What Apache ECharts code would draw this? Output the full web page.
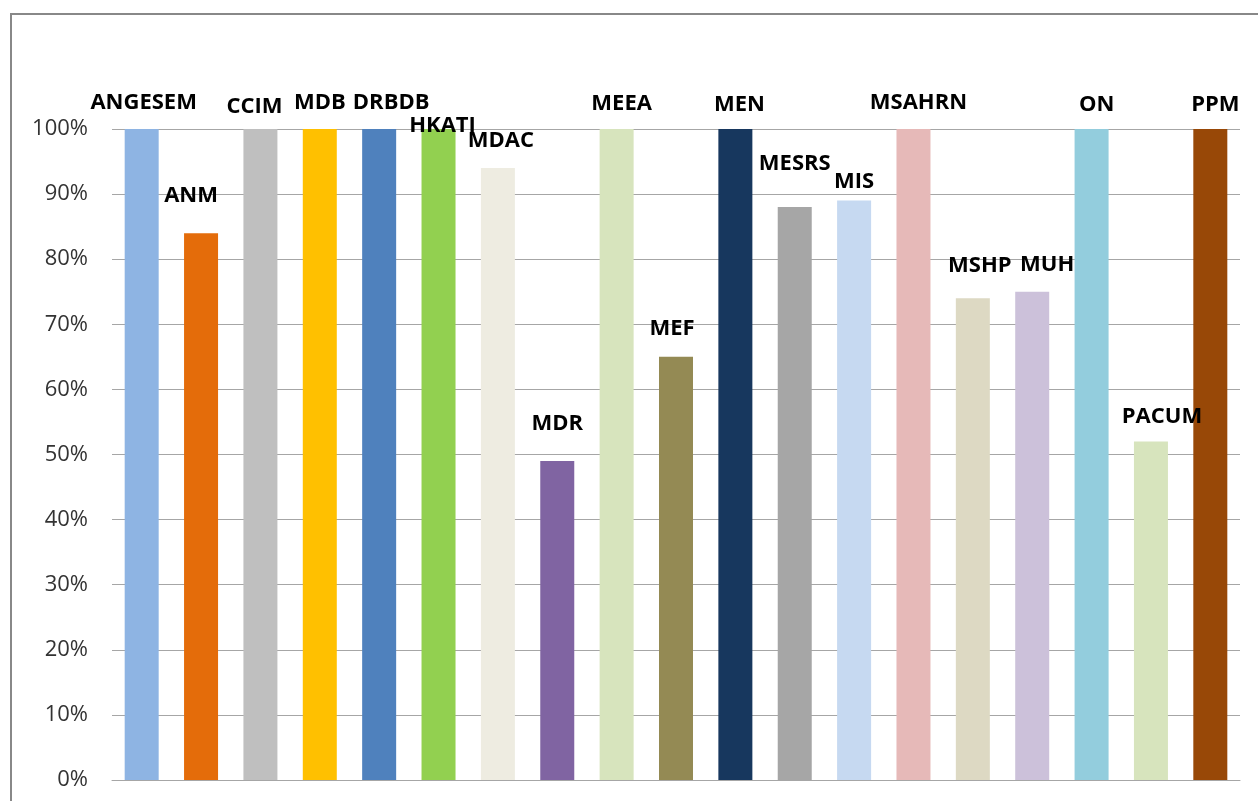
<!DOCTYPE html>
<html>
<head>
<meta charset="utf-8">
<script src="https://cdn.jsdelivr.net/npm/echarts@6/dist/echarts.min.js"></script>
<style>
html, body { margin: 0; padding: 0; background: #fff; }
#main { width: 1258px; height: 801px; }
</style>
</head>
<body>
<div id="main"></div>
<script>
// données (en %)
var categories = ['ANGESEM', 'ANM', 'CCIM', 'MDB', 'DRBDB', 'HKATI', 'MDAC', 'MDR', 'MEEA', 'MEF',
  'MEN', 'MESRS', 'MIS', 'MSAHRN', 'MSHP', 'MUH', 'ON', 'PACUM', 'PPM'];
var values = [100, 84, 100, 100, 100, 100, 94, 49, 100, 65, 100, 88, 89, 100, 74, 75, 100, 52, 100];
var yTicks = [0, 10, 20, 30, 40, 50, 60, 70, 80, 90, 100];

// couleurs des barres et décalage des étiquettes (déplacées à la main dans l'original)
var barColors = ['#8EB4E3', '#E46C0A', '#BFBFBF', '#FFC000', '#4F81BD', '#92D050', '#EEECE1', '#8064A2', '#D7E4BD', '#948A54',
  '#17375E', '#A6A6A6', '#C6D9F1', '#E6B9B8', '#DDD9C3', '#CCC1DA', '#93CDDD', '#D7E4BD', '#984807'];
var labelNudge = [[2, -15], [-10, -26], [-6, -11], [0, -15], [12, -15], [4, 8], [3, -16], [0, -26], [5, -14], [-4, -17],
  [4, -13], [0, -32], [0, -8], [5, -15], [7, -22], [15, -16], [5, -13], [11, -14], [5, -13]];

var chart = echarts.init(document.getElementById('main'), null, { renderer: 'canvas' });
var font = '"Open Sans", "Liberation Sans", sans-serif';

var option = {
  animation: false,
  backgroundColor: '#fff',
  graphic: [{
    type: 'rect',
    shape: { x: 11, y: 14, width: 1300, height: 850 },
    style: { fill: null, stroke: '#888', lineWidth: 2 },
    silent: true
  }],
  grid: { left: 112, right: 18, top: 129, bottom: 21 },
  xAxis: {
    type: 'category',
    data: categories,
    axisLine: { lineStyle: { color: '#a6a6a6', width: 1 } },
    axisTick: { show: false },
    axisLabel: { show: false }
  },
  yAxis: {
    type: 'value',
    min: yTicks[0],
    max: yTicks[yTicks.length - 1],
    interval: 10,
    axisLine: { show: false },
    axisTick: { show: false },
    splitLine: { lineStyle: { color: '#a6a6a6', width: 1 } },
    axisLabel: {
      formatter: '{value}%',
      color: '#333',
      fontSize: 22,
      fontFamily: font,
      margin: 24
    }
  },
  series: [{
    type: 'bar',
    barWidth: 34,
    data: values.map(function (v, i) {
      return {
        value: v,
        itemStyle: { color: barColors[i] },
        label: { offset: labelNudge[i] }
      };
    }),
    label: {
      show: true,
      position: 'top',
      distance: 0,
      formatter: function (p) { return p.name; },
      color: '#000',
      fontSize: 22,
      fontWeight: 'bold',
      fontFamily: font
    }
  }]
};
chart.setOption(option);
</script>
</body>
</html>
